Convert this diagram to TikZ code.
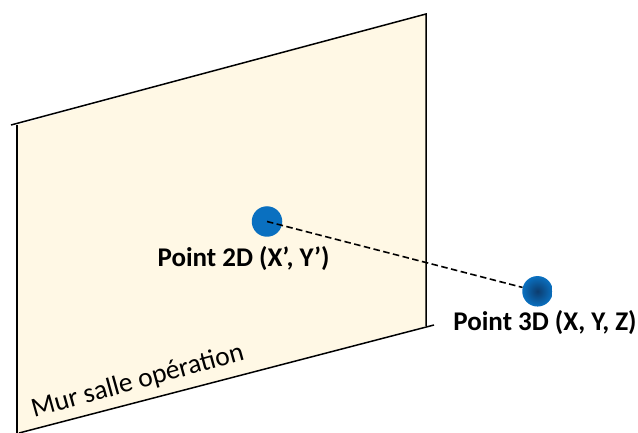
\documentclass[tikz,border=0pt]{standalone}
\usepackage{xcolor}
\usepackage{fontspec}
\setmainfont{Carlito}
\usepackage{tikz}
\usetikzlibrary{shapes,calc}
\definecolor{wallFill}{RGB}{255,248,229}
\definecolor{pointBlue}{RGB}{10,112,192}
\definecolor{pointDark}{RGB}{12,60,110}
\tikzstyle{tsEdge} = [ 
    draw=black,
    line width=1.5pt
]
\tikzstyle{tsLabel} = [ 
    text=black, 
    font=\bfseries\fontsize{27}{30}\selectfont,
    inner sep=0pt,
    anchor=base
]
\tikzstyle{tsPoint} = [ 
    circle,
    inner sep=0pt,
    minimum size=30.5pt
]
\tikzstyle{tsDashed} = [ 
    draw=black,
    line width=1.6pt,
    dash pattern=on 6.5pt off 3.5pt
]

\begin{document}
\begin{tikzpicture} [x=1pt, y=-1pt]
        \useasboundingbox (0,0) rectangle (638,433);

        % Wall
        \fill[wallFill] (17,125) -- (426,14) -- (426,326) -- (17,433) -- cycle;
        \draw[tsEdge] (11,125) -- (426,14) -- (426,326);
        \draw[tsEdge] (17,125) -- (17,433);
        \draw[tsEdge] (19,433) -- (434,325);
        \node[  text=black,
                font=\fontsize{27.5}{30}\selectfont,
                inner sep=0pt,
                anchor=base west,
                rotate=15.5] (wall) at (34,418) {Mur salle opération};

        % Define nodes
        \node[  tsPoint,
                fill=pointBlue] (p2) at (267,221.5) {};

        \node[  tsPoint,
                inner color=pointDark,
                outer color=pointBlue] (p3) at (537.5,291.3) {};

        \node[tsLabel] (lbl2) at (243.5,266) {Point 2D (X’, Y’)};
        \node[tsLabel] (lbl3) at (545,330) {Point 3D (X, Y, Z)};

        \draw[tsDashed] (p2.center) -- (p3);

    \end{tikzpicture}
\end{document}
